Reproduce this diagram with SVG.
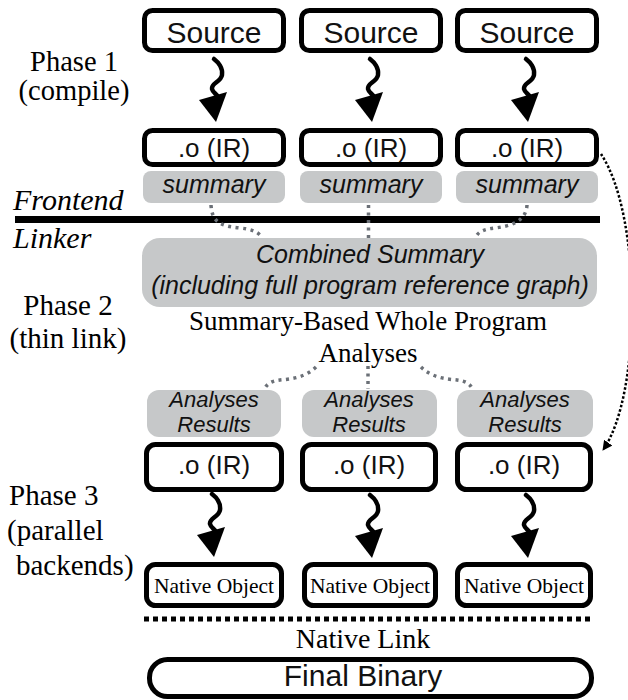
<svg xmlns="http://www.w3.org/2000/svg" width="628" height="700" viewBox="0 0 628 700">
<style>
.box{fill:#fff;stroke:#000;stroke-width:5}
.grey{fill:#c6c8c9;stroke:none}
.sans{font-family:"Liberation Sans",Arial,sans-serif;fill:#111;text-anchor:middle}
.it{font-style:italic}
.serif{font-family:"Liberation Serif","Times New Roman",serif;fill:#000}
.mid{text-anchor:middle}
.gdot{fill:none;stroke:#6b7077;stroke-width:3.5;stroke-dasharray:3 4.5}
.wave{fill:none;stroke:#000;stroke-width:4.5;stroke-linecap:round}
</style>
<defs>
<g id="wavy">
<path class="wave" d="M -2,-63 C 2,-60 7,-54 6,-47 C 5,-40 -5,-39 -4,-33 C -3,-29 1,-28 2,-25"/>
<path d="M -17,-22 L 11,-30 L 0,0 Z" fill="#000"/>
</g>
<marker id="ah" viewBox="0 0 10 10" refX="9" refY="5" markerWidth="4" markerHeight="4" orient="auto" markerUnits="strokeWidth">
<path d="M0,0 L10,5 L0,10 Z" fill="#000"/>
</marker>
</defs>

<g id="labels">
<text class="serif mid" x="74" y="71" font-size="28.5">Phase 1</text>
<text class="serif mid" x="74" y="100" font-size="28.5">(compile)</text>
<text class="serif it" x="13" y="210" font-size="30">Frontend</text>
<text class="serif it" x="13" y="248" font-size="30">Linker</text>
<text class="serif mid" x="68" y="315" font-size="29">Phase 2</text>
<text class="serif mid" x="68" y="348" font-size="29">(thin link)</text>
<text class="serif" x="9" y="505" font-size="29">Phase 3</text>
<text class="serif" x="7" y="540" font-size="29">(parallel</text>
<text class="serif" x="16" y="575" font-size="29">backends)</text>
</g>

<g id="divider">
<rect x="15" y="216" width="585" height="7" fill="#000"/>
</g>

<g id="source1"><rect class="box" x="144.5" y="10.5" width="139" height="40" rx="8"/><text class="sans" x="214" y="43" font-size="30">Source</text></g>
<g id="source2"><rect class="box" x="301.5" y="10.5" width="139" height="40" rx="8"/><text class="sans" x="371" y="43" font-size="30">Source</text></g>
<g id="source3"><rect class="box" x="457.5" y="10.5" width="139" height="40" rx="8"/><text class="sans" x="527" y="43" font-size="30">Source</text></g>

<g id="ir1"><rect class="box" x="144.5" y="130.5" width="139" height="34" rx="8"/><text class="sans" x="214" y="157" font-size="26">.o (IR)</text></g>
<g id="ir2"><rect class="box" x="301.5" y="130.5" width="139" height="34" rx="8"/><text class="sans" x="371" y="157" font-size="26">.o (IR)</text></g>
<g id="ir3"><rect class="box" x="457.5" y="130.5" width="139" height="34" rx="8"/><text class="sans" x="527" y="157" font-size="26">.o (IR)</text></g>

<g id="summary1"><rect class="grey" x="143" y="171" width="142" height="32" rx="8"/><text class="sans it" x="214" y="193" font-size="25">summary</text></g>
<g id="summary2"><rect class="grey" x="300" y="171" width="142" height="32" rx="8"/><text class="sans it" x="371" y="193" font-size="25">summary</text></g>
<g id="summary3"><rect class="grey" x="456" y="171" width="142" height="32" rx="8"/><text class="sans it" x="527" y="193" font-size="25">summary</text></g>

<g id="combined">
<rect class="grey" x="142" y="238" width="455" height="69" rx="18"/>
<text class="sans it" x="370" y="263" font-size="25">Combined Summary</text>
<text class="sans it" x="370" y="294" font-size="25">(including full program reference graph)</text>
</g>

<g id="analyses">
<text class="serif mid" x="368" y="330" font-size="27">Summary-Based Whole Program</text>
<text class="serif mid" x="368" y="362" font-size="27">Analyses</text>
</g>

<g id="results1"><rect class="grey" x="147" y="390" width="134" height="47" rx="12"/><text class="sans it" x="214" y="407" font-size="22">Analyses</text><text class="sans it" x="214" y="432" font-size="22">Results</text></g>
<g id="results2"><rect class="grey" x="302" y="390" width="135" height="47" rx="12"/><text class="sans it" x="369" y="407" font-size="22">Analyses</text><text class="sans it" x="369" y="432" font-size="22">Results</text></g>
<g id="results3"><rect class="grey" x="457" y="390" width="136" height="47" rx="12"/><text class="sans it" x="525" y="407" font-size="22">Analyses</text><text class="sans it" x="525" y="432" font-size="22">Results</text></g>

<g id="ir4"><rect class="box" x="146.5" y="444.5" width="135" height="45" rx="9"/><text class="sans" x="214" y="474" font-size="26">.o (IR)</text></g>
<g id="ir5"><rect class="box" x="302.5" y="444.5" width="133" height="45" rx="9"/><text class="sans" x="369" y="474" font-size="26">.o (IR)</text></g>
<g id="ir6"><rect class="box" x="457.5" y="444.5" width="133" height="45" rx="9"/><text class="sans" x="524" y="474" font-size="26">.o (IR)</text></g>

<g id="native1"><rect class="box" x="146.5" y="564.5" width="135" height="41" rx="9"/><text class="serif mid" x="214" y="593" font-size="21.5">Native Object</text></g>
<g id="native2"><rect class="box" x="304.5" y="564.5" width="131" height="41" rx="9"/><text class="serif mid" x="370" y="593" font-size="21.5">Native Object</text></g>
<g id="native3"><rect class="box" x="457.5" y="564.5" width="133" height="41" rx="9"/><text class="serif mid" x="524" y="593" font-size="21.5">Native Object</text></g>

<g id="nativelink">
<line x1="144" y1="619" x2="592" y2="619" stroke="#000" stroke-width="5" stroke-dasharray="5 4"/>
<text class="serif mid" x="363" y="648" font-size="28">Native Link</text>
</g>

<g id="final"><rect class="box" x="149.5" y="659.5" width="442" height="37" rx="18"/><text class="sans" x="363" y="686" font-size="30">Final Binary</text></g>

<g id="connectors">
<use href="#wavy" x="216" y="122"/>
<use href="#wavy" x="372" y="122"/>
<use href="#wavy" x="528" y="122"/>
<use href="#wavy" x="214" y="557"/>
<use href="#wavy" x="372" y="558"/>
<use href="#wavy" x="528" y="558"/>
<path class="gdot" d="M 211,205 C 212,222 220,226 240,228 C 250,229 256,231 260,235"/>
<path class="gdot" d="M 368.5,205 V 238"/>
<path class="gdot" d="M 527,205 C 526,222 510,226 495,228 C 485,229 480,231 477,235"/>
<path class="gdot" d="M 316,367 C 305,378 290,379 280,380 C 272,381 268,383 265,388"/>
<path class="gdot" d="M 368,366 V 389"/>
<path class="gdot" d="M 421,367 C 432,378 447,379 457,380 C 465,381 469,383 472,388"/>
<path d="M 601,154 C 642,215 642,395 603,450" fill="none" stroke="#000" stroke-width="2.5" stroke-dasharray="2.5 2" marker-end="url(#ah)"/>
</g>
</svg>
